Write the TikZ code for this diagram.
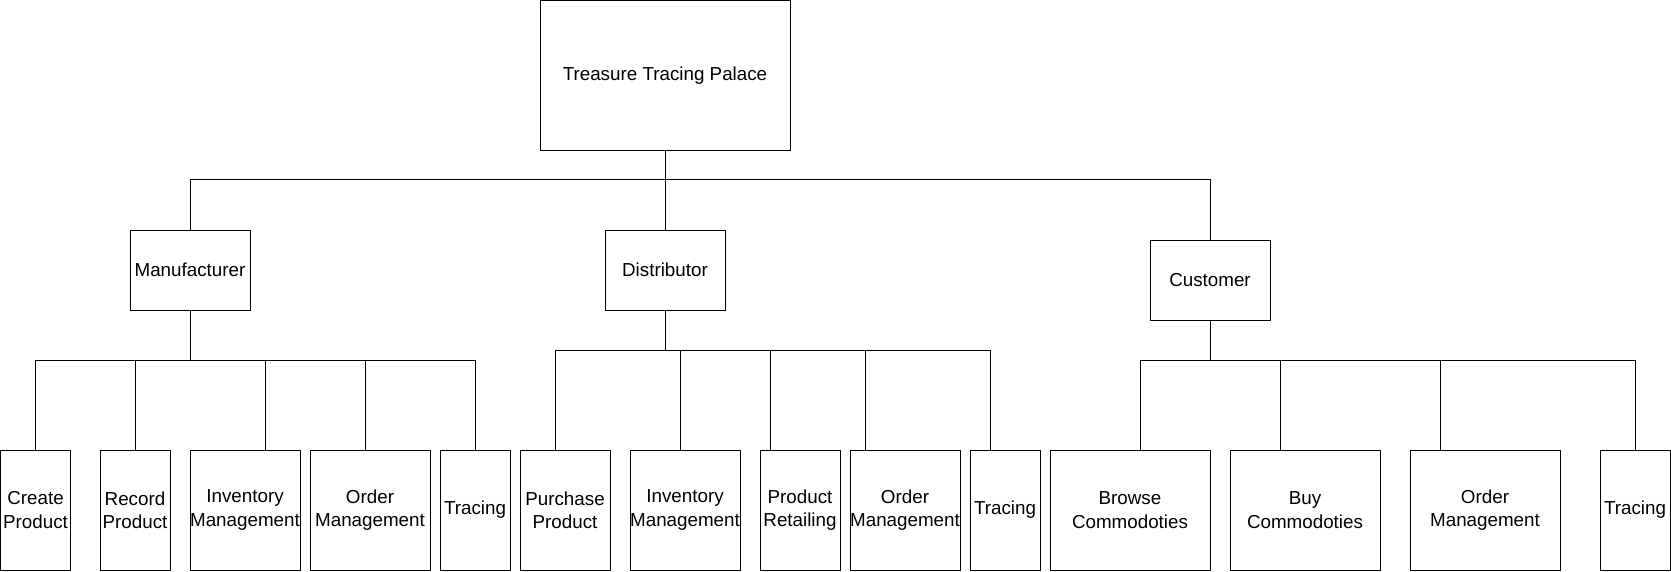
\documentclass[tikz,border=0pt]{standalone}
\usepackage{fontspec}
\setmainfont{Liberation Sans}
\usetikzlibrary{calc}
\begin{document}
\begin{tikzpicture}[x=1pt,y=-1pt,
  box/.style={draw, line width=1pt, rectangle, inner sep=0pt, align=center,
    font=\fontsize{18.8}{23.3}\selectfont},
  leaf/.style={box, minimum height=120pt},
  mid/.style={box, minimum width=120pt, minimum height=80pt},
  link/.style={line width=1pt}]
\useasboundingbox (0,0) rectangle (1671,571);

% root
\node[box, minimum width=250pt, minimum height=149.5pt] (root) at (665,75.25) {Treasure Tracing Palace};

% second level
\node[mid] (mfr)  at (190,270)  {Manufacturer};
\node[mid] (dist) at (665,270)  {Distributor};
\node[mid] (cust) at (1210,280) {Customer};

% manufacturer children
\node[leaf, minimum width=70pt]  (m1) at (35.5,510) {Create\\Product};
\node[leaf, minimum width=70pt]  (m2) at (135,510)  {Record\\Product};
\node[leaf, minimum width=110pt] (m3) at (245,510)  {Inventory\\Management};
\node[leaf, minimum width=120pt] (m4) at (370,510)  {Order\\Management};
\node[leaf, minimum width=70pt]  (m5) at (475,510)  {Tracing};

% distributor children
\node[leaf, minimum width=90pt]  (d1) at (565,510)  {Purchase\\Product};
\node[leaf, minimum width=110pt] (d2) at (685,510)  {Inventory\\Management};
\node[leaf, minimum width=80pt]  (d3) at (800,510)  {Product\\Retailing};
\node[leaf, minimum width=110pt] (d4) at (905,510)  {Order\\Management};
\node[leaf, minimum width=70pt]  (d5) at (1005,510) {Tracing};

% customer children
\node[leaf, minimum width=160pt] (c1) at (1130,510) {Browse\\Commodoties};
\node[leaf, minimum width=150pt] (c2) at (1305,510) {Buy\\Commodoties};
\node[leaf, minimum width=150pt] (c3) at (1485,510) {Order\\Management};
\node[leaf, minimum width=70pt]  (c4) at (1635,510) {Tracing};

% top level connectors
\draw[link] (root.south) -- (dist.north);
\draw[link] (mfr.north) -- ++(0,-50) -| (cust.north);

% manufacturer connectors
\coordinate (mb) at ($(mfr.south)+(0,50)$);
\coordinate (m3t) at ($(m3.north)+(20,0)$);
\coordinate (m4t) at ($(m4.north)+(-5,0)$);
\draw[link] (mfr.south) -- (mb);
\draw[link] (m1.north) |- (m5.north |- mb) -- (m5.north);
\draw[link] (m2.north) -- (m2.north |- mb);
\draw[link] (m3t) -- (m3t |- mb);
\draw[link] (m4t) -- (m4t |- mb);

% distributor connectors
\coordinate (db) at ($(dist.south)+(0,40)$);
\coordinate (d1t) at ($(d1.north)+(-10,0)$);
\coordinate (d2t) at ($(d2.north)+(-5,0)$);
\coordinate (d3t) at ($(d3.north)+(-30,0)$);
\coordinate (d4t) at ($(d4.north)+(-40,0)$);
\coordinate (d5t) at ($(d5.north)+(-15,0)$);
\draw[link] (dist.south) -- (db);
\draw[link] (d1t) |- (d5t |- db) -- (d5t);
\draw[link] (d2t) -- (d2t |- db);
\draw[link] (d3t) -- (d3t |- db);
\draw[link] (d4t) -- (d4t |- db);

% customer connectors
\coordinate (cb) at ($(cust.south)+(0,40)$);
\coordinate (c1t) at ($(c1.north)+(10,0)$);
\coordinate (c2t) at ($(c2.north)+(-25,0)$);
\coordinate (c3t) at ($(c3.north)+(-45,0)$);
\draw[link] (cust.south) -- (cb);
\draw[link] (c1t) |- (c4.north |- cb) -- (c4.north);
\draw[link] (c2t) -- (c2t |- cb);
\draw[link] (c3t) -- (c3t |- cb);
\end{tikzpicture}
\end{document}
